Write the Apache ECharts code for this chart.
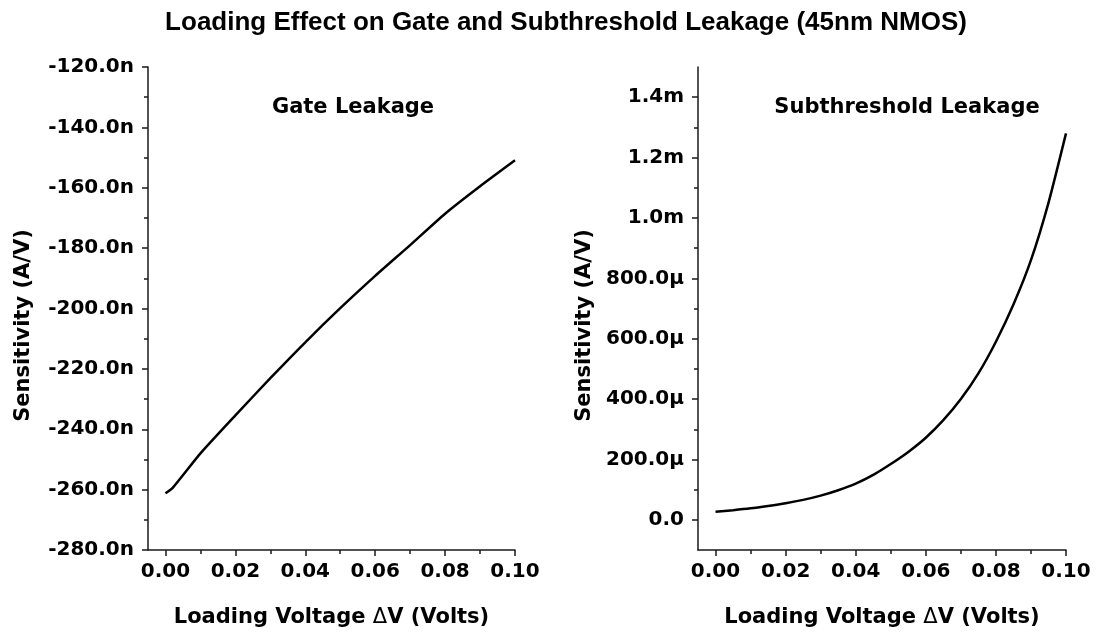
<!DOCTYPE html>
<html>
<head>
<meta charset="utf-8">
<script src="https://cdn.jsdelivr.net/npm/echarts@6/dist/echarts.min.js"></script>
<style>
  html, body { margin: 0; padding: 0; background: #fff; }
  #chart { width: 1098px; height: 635px; }
</style>
</head>
<body>
<div id="chart"></div>
<script>
// Loading voltage samples (V)
const gateVoltage = [0, 0.002, 0.01, 0.02, 0.03, 0.04, 0.05, 0.06, 0.07, 0.08, 0.09, 0.10];
// Gate leakage sensitivity (nA/V)
const gateSensitivity = [-261.2, -259.5, -248.0, -235.4, -223.1, -211.2, -199.9, -189.2, -179.0, -168.6, -159.5, -150.9];

const subVoltage = [0, 0.005, 0.01, 0.015, 0.02, 0.025, 0.03, 0.035, 0.04, 0.045, 0.05,
                    0.055, 0.06, 0.065, 0.07, 0.075, 0.08, 0.085, 0.09, 0.095, 0.10];
// Subthreshold leakage sensitivity (uA/V)
const subSensitivity = [27, 32, 38, 46, 55, 66, 80, 98, 120, 149, 185,
                        225, 272, 330, 400, 485, 590, 713, 860, 1050, 1280];

// Tick positions
const xMajorTicks = [0, 0.02, 0.04, 0.06, 0.08, 0.10];
const xMinorTicks = [0.01, 0.03, 0.05, 0.07, 0.09];
const subMajorTicks = [0, 200, 400, 600, 800, 1000, 1200, 1400];
const subMinorTicks = [100, 300, 500, 700, 900, 1100, 1300];

const chartTitle = 'Loading Effect on Gate and Subthreshold Leakage (45nm NMOS)';
const xName = 'Loading Voltage {d|\u0394}V (Volts)';
const yName = 'Sensitivity (A/V)';

const FONT = 'DejaVu Sans';
const AXIS_COLOR = '#1a1a1a';

function zip(xs, ys) { return xs.map((x, i) => [x, ys[i]]); }

// Main x axis (line, labels, long ticks) plus an overlaid axis for the short in-between ticks
function xAxisPair(gridIndex) {
  return [
    {
      type: 'value', gridIndex, min: -0.005, max: 0.10, position: 'bottom',
      name: xName, nameLocation: 'middle', nameGap: 57,
      nameTextStyle: {
        fontFamily: FONT, fontWeight: 'bold', fontSize: 21, color: '#000',
        rich: { d: { fontFamily: FONT, fontWeight: 'normal', fontSize: 21, color: '#000' } }
      },
      axisLine: { show: true, onZero: false, lineStyle: { color: AXIS_COLOR, width: 1.5 } },
      axisTick: { show: true, inside: false, length: 6, customValues: xMajorTicks, lineStyle: { color: AXIS_COLOR, width: 1.5 } },
      axisLabel: {
        customValues: xMajorTicks, margin: 12,
        fontFamily: FONT, fontWeight: 'bold', fontSize: 20, color: '#000',
        formatter: v => v.toFixed(2)
      },
      splitLine: { show: false }
    },
    {
      type: 'value', gridIndex, min: -0.005, max: 0.10, position: 'bottom',
      axisLine: { show: false, onZero: false },
      axisTick: { show: true, inside: false, length: 4, customValues: xMinorTicks, lineStyle: { color: AXIS_COLOR, width: 1.5 } },
      axisLabel: { show: false },
      splitLine: { show: false }
    }
  ];
}

const yNameStyle = {
  fontFamily: FONT, fontWeight: 'bold', fontSize: 21, color: '#000',
  padding: [0, 34, 0, 0]
};

const option = {
  backgroundColor: '#fff',
  animation: false,
  title: [
    {
      text: chartTitle, left: 561, top: 5, textAlign: 'center',
      textStyle: { fontFamily: 'Liberation Sans', fontWeight: 'bold', fontSize: 26, color: '#000' }
    },
    {
      text: 'Gate Leakage', left: 348, top: 92, textAlign: 'center',
      textStyle: { fontFamily: FONT, fontWeight: 'bold', fontSize: 21, color: '#000' }
    },
    {
      text: 'Subthreshold Leakage', left: 902, top: 92, textAlign: 'center',
      textStyle: { fontFamily: FONT, fontWeight: 'bold', fontSize: 21, color: '#000' }
    }
  ],
  grid: [
    { left: 148, right: 583, top: 67, bottom: 85 },
    { left: 698, right: 32, top: 67, bottom: 85 }
  ],
  xAxis: [...xAxisPair(0), ...xAxisPair(1)],
  yAxis: [
    {
      type: 'value', gridIndex: 0, min: -280, max: -120, interval: 20,
      name: yName, nameLocation: 'middle', nameGap: 114, nameRotate: 90,
      nameTextStyle: yNameStyle,
      axisLine: { show: true, onZero: false, lineStyle: { color: AXIS_COLOR, width: 1.5 } },
      axisTick: { show: true, inside: false, length: 6, lineStyle: { color: AXIS_COLOR, width: 1.5 } },
      minorTick: { show: true, splitNumber: 2, length: 4, lineStyle: { color: AXIS_COLOR, width: 1.5 } },
      axisLabel: {
        margin: 14, fontFamily: FONT, fontWeight: 'bold', fontSize: 20, color: '#000',
        formatter: v => v.toFixed(1) + 'n'
      },
      splitLine: { show: false }
    },
    {
      type: 'value', gridIndex: 1, min: -100, max: 1500,
      name: yName, nameLocation: 'middle', nameGap: 103, nameRotate: 90,
      nameTextStyle: yNameStyle,
      axisLine: { show: true, onZero: false, lineStyle: { color: AXIS_COLOR, width: 1.5 } },
      axisTick: { show: true, inside: false, length: 6, customValues: subMajorTicks, lineStyle: { color: AXIS_COLOR, width: 1.5 } },
      axisLabel: {
        customValues: subMajorTicks, margin: 14,
        fontFamily: FONT, fontWeight: 'bold', fontSize: 20, color: '#000',
        formatter: v => v === 0 ? '0.0' : (v >= 1000 ? (v / 1000).toFixed(1) + 'm' : v.toFixed(1) + '\u03bc')
      },
      splitLine: { show: false }
    },
    {
      type: 'value', gridIndex: 1, min: -100, max: 1500, position: 'left',
      axisLine: { show: false, onZero: false },
      axisTick: { show: true, inside: false, length: 4, customValues: subMinorTicks, lineStyle: { color: AXIS_COLOR, width: 1.5 } },
      axisLabel: { show: false },
      splitLine: { show: false }
    }
  ],
  series: [
    {
      type: 'line', xAxisIndex: 0, yAxisIndex: 0,
      data: zip(gateVoltage, gateSensitivity),
      showSymbol: false, smooth: 0.2,
      lineStyle: { color: '#000', width: 2.5 }
    },
    {
      type: 'line', xAxisIndex: 2, yAxisIndex: 1,
      data: zip(subVoltage, subSensitivity),
      showSymbol: false, smooth: 0.2,
      lineStyle: { color: '#000', width: 2.5 }
    }
  ]
};

const chart = echarts.init(document.getElementById('chart'), null, { renderer: 'canvas' });
chart.setOption(option);
</script>
</body>
</html>
